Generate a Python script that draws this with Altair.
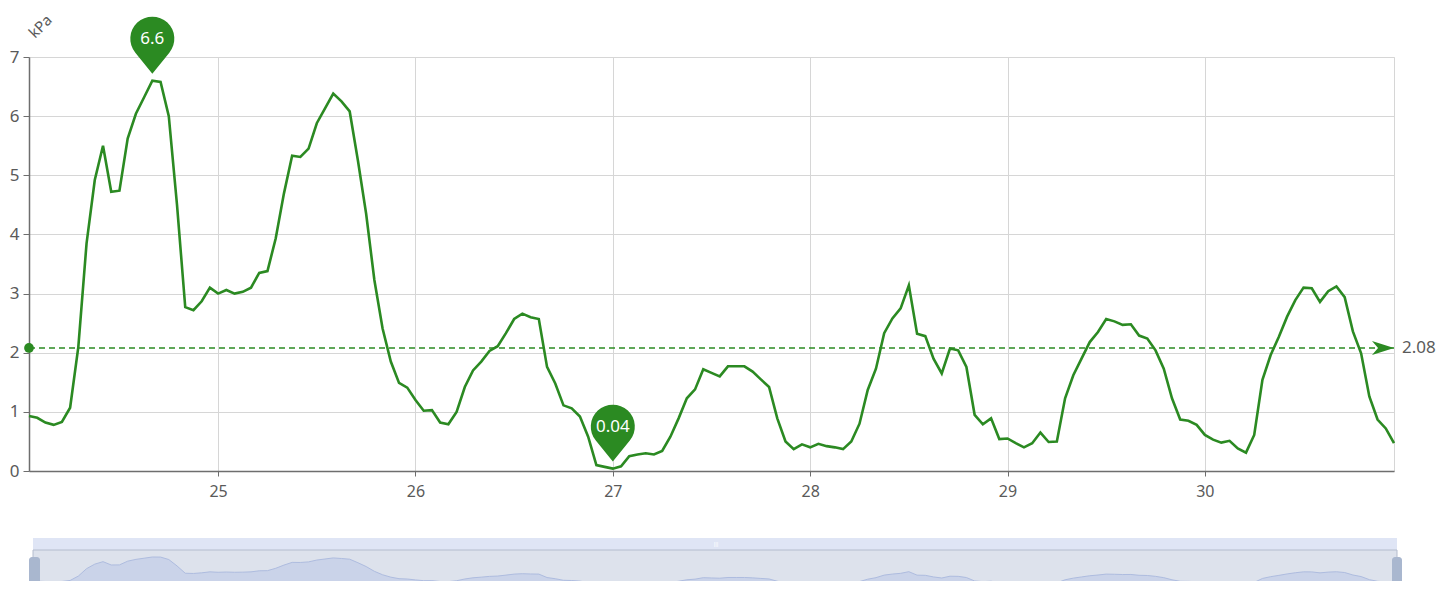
import altair as alt
import pandas as pd

# ---- data ----
start_day = 24          # x axis day of month
first_hour = 1          # first sample at 24 01:00, hourly
vpd = [
    0.93, 0.90, 0.82, 0.78, 0.83, 1.07, 2.10, 3.85, 4.92, 5.50, 4.72, 4.74,
    5.62, 6.04, 6.32, 6.60, 6.58, 6.00, 4.50, 2.77, 2.72, 2.87, 3.10,
    3.00, 3.06, 3.00, 3.03, 3.10, 3.35, 3.38, 3.93, 4.69, 5.33, 5.31, 5.45,
    5.88, 6.13, 6.38, 6.25, 6.08, 5.25, 4.35, 3.23, 2.41, 1.85, 1.49, 1.41,
    1.20, 1.02, 1.03, 0.82, 0.79, 1.00, 1.42, 1.70, 1.85, 2.03, 2.11, 2.33,
    2.57, 2.66, 2.60, 2.57, 1.76, 1.48, 1.11, 1.06, 0.92, 0.58, 0.10, 0.07,
    0.04, 0.08, 0.25, 0.28, 0.30, 0.28, 0.34, 0.58, 0.89, 1.23, 1.38, 1.72,
    1.66, 1.60, 1.77, 1.77, 1.77, 1.68, 1.55, 1.42, 0.89, 0.50, 0.37, 0.45,
    0.40, 0.46, 0.42, 0.40, 0.37, 0.50, 0.80, 1.37, 1.73, 2.33, 2.58, 2.75,
    3.14, 2.32, 2.28, 1.90, 1.65, 2.07, 2.04, 1.76, 0.95, 0.79, 0.89, 0.54,
    0.55, 0.47, 0.40, 0.47, 0.65, 0.49, 0.50, 1.23, 1.62, 1.90, 2.18, 2.35,
    2.57, 2.53, 2.47, 2.48, 2.29, 2.24, 2.04, 1.73, 1.23, 0.87, 0.85, 0.78,
    0.61, 0.53, 0.48, 0.51, 0.38, 0.31, 0.61, 1.54, 1.96, 2.27, 2.61, 2.89,
    3.10, 3.09, 2.86, 3.04, 3.12, 2.94, 2.36, 1.99, 1.26, 0.87, 0.72, 0.47,
]
mean_value = 2.08
mean_label = "2.08"
x_ticks = [25, 26, 27, 28, 29, 30]
y_ticks = [0, 1, 2, 3, 4, 5, 6, 7]
y_title = "kPa"

# ---- tables ----
t = [start_day + (first_hour + i) / 24 for i in range(len(vpd))]
df = pd.DataFrame({"t": t, "v": vpd})
imax = max(range(len(vpd)), key=lambda i: vpd[i])
imin = min(range(len(vpd)), key=lambda i: vpd[i])
pins = pd.DataFrame({
    "t": [t[imax], t[imin]],
    "v": [vpd[imax], vpd[imin]],
    "label": [f"{vpd[imax]:g}", f"{vpd[imin]:g}"],
})
mean_df = pd.DataFrame({"t0": [t[0]], "t1": [t[-1]], "v": [mean_value], "label": [mean_label]})
one = pd.DataFrame({"a": [0]})

GREEN = "#2b8a22"
TXT = "#5a5a5a"
FONT = "Noto Sans"

xscale = alt.Scale(domain=[t[0], t[-1]], nice=False, zero=False)
yscale = alt.Scale(domain=[0, 7], nice=False)

xaxis = alt.Axis(values=x_ticks, format="d", title=None, grid=True,
                 gridColor="#d6d6d6", gridWidth=1, tickSize=5,
                 tickColor="#6e6e6e", domainColor="#6e6e6e", domainWidth=1.5,
                 labelFontSize=16, labelColor=TXT, labelFont=FONT, labelPadding=7)
yaxis = alt.Axis(values=y_ticks, format="d", title=y_title, grid=True, gridColor="#d6d6d6",
                 gridWidth=1, tickSize=6, tickColor="#6e6e6e",
                 domainColor="#6e6e6e", domainWidth=1.5,
                 labelFontSize=17, labelColor=TXT, labelFont=FONT, labelPadding=4,
                 titleAngle=315, titleX=11, titleY=-31, titleAlign="center",
                 titleBaseline="middle", titleFontSize=15, titleFontWeight="normal",
                 titleColor=TXT, titleFont=FONT)

X = alt.X("t:Q", scale=xscale, axis=xaxis)
Y = alt.Y("v:Q", scale=yscale, axis=yaxis)

line = alt.Chart(df).mark_line(color=GREEN, strokeWidth=2.6).encode(x=X, y=Y)

rule = alt.Chart(mean_df).mark_rule(color=GREEN, strokeWidth=1.3, strokeDash=[6, 4]).encode(
    x=alt.X("t0:Q", scale=xscale), x2="t1:Q", y=alt.Y("v:Q", scale=yscale))
dot = alt.Chart(mean_df).mark_point(shape="circle", filled=True, size=95, color=GREEN, opacity=1).encode(
    x=alt.X("t0:Q", scale=xscale), y=alt.Y("v:Q", scale=yscale))
arrow_path = "M0,0 L-2,-0.64 L-1.45,0 L-2,0.64 Z"
arrow = alt.Chart(mean_df).mark_point(shape=arrow_path, filled=True, size=484, color=GREEN, opacity=1).encode(
    x=alt.X("t1:Q", scale=xscale), y=alt.Y("v:Q", scale=yscale))
mean_text = alt.Chart(mean_df).mark_text(align="left", baseline="middle", dx=8, fontSize=17,
                                          color=TXT, font=FONT).encode(
    x=alt.X("t1:Q", scale=xscale), y=alt.Y("v:Q", scale=yscale), text="label:N")

pin_path = "M0,-0.167 L-0.405,-0.667 A0.524,0.524 0 1 1 0.405,-0.667 Z"
pin = alt.Chart(pins).mark_point(shape=pin_path, filled=True, size=7056, color=GREEN, opacity=1).encode(
    x=alt.X("t:Q", scale=xscale), y=alt.Y("v:Q", scale=yscale))
pin_text = alt.Chart(pins).mark_text(dy=-42, baseline="middle", align="center", fontSize=17,
                                     color="white", font=FONT).encode(
    x=alt.X("t:Q", scale=xscale), y=alt.Y("v:Q", scale=yscale), text="label:N")

main = alt.layer(line, rule, dot, arrow, mean_text, pin, pin_text)

# ---- data-zoom slider look-alike ----
band = alt.Chart(one).mark_rect(color="#dfe5f5").encode(
    x=alt.value(4), x2=alt.value(1368), y=alt.value(481), y2=alt.value(493))
body = alt.Chart(one).mark_rect(fill="#dde2ec", stroke="#b4bccd", strokeWidth=1).encode(
    x=alt.value(4), x2=alt.value(1368), y=alt.value(493), y2=alt.value(545))
mini = alt.Chart(df).mark_area(color="#cad3e9", opacity=1,
                               line={"color": "#aebcdf", "strokeWidth": 1}).encode(
    x=alt.X("t:Q", scale=xscale),
    y=alt.Y("v:Q", scale=alt.Scale(domain=[0, 6.6], range=[528, 500], nice=False, zero=False), axis=None),
    y2=alt.value(545))
h_left = alt.Chart(one).mark_rect(color="#a9b7cf", cornerRadius=3).encode(
    x=alt.value(0), x2=alt.value(11), y=alt.value(500), y2=alt.value(528))
h_right = alt.Chart(one).mark_rect(color="#a9b7cf", cornerRadius=3).encode(
    x=alt.value(1363), x2=alt.value(1373), y=alt.value(500), y2=alt.value(528))
grip = alt.Chart(one).mark_text(text="|||", fontSize=6, color="#ffffff").encode(
    x=alt.value(687), y=alt.value(487))

slider = alt.layer(band, body, mini, h_left, h_right, grip)

chart = alt.layer(main, slider).resolve_scale(y="independent").properties(
    width=1365, height=414,
    autosize=alt.AutoSizeParams(type="none"),
    padding={"left": 21, "top": 49, "right": 52, "bottom": 110},
).configure_view(stroke="#d6d6d6", strokeWidth=1)

chart.save("out.html", embed_options={"renderer": "svg", "actions": False})
